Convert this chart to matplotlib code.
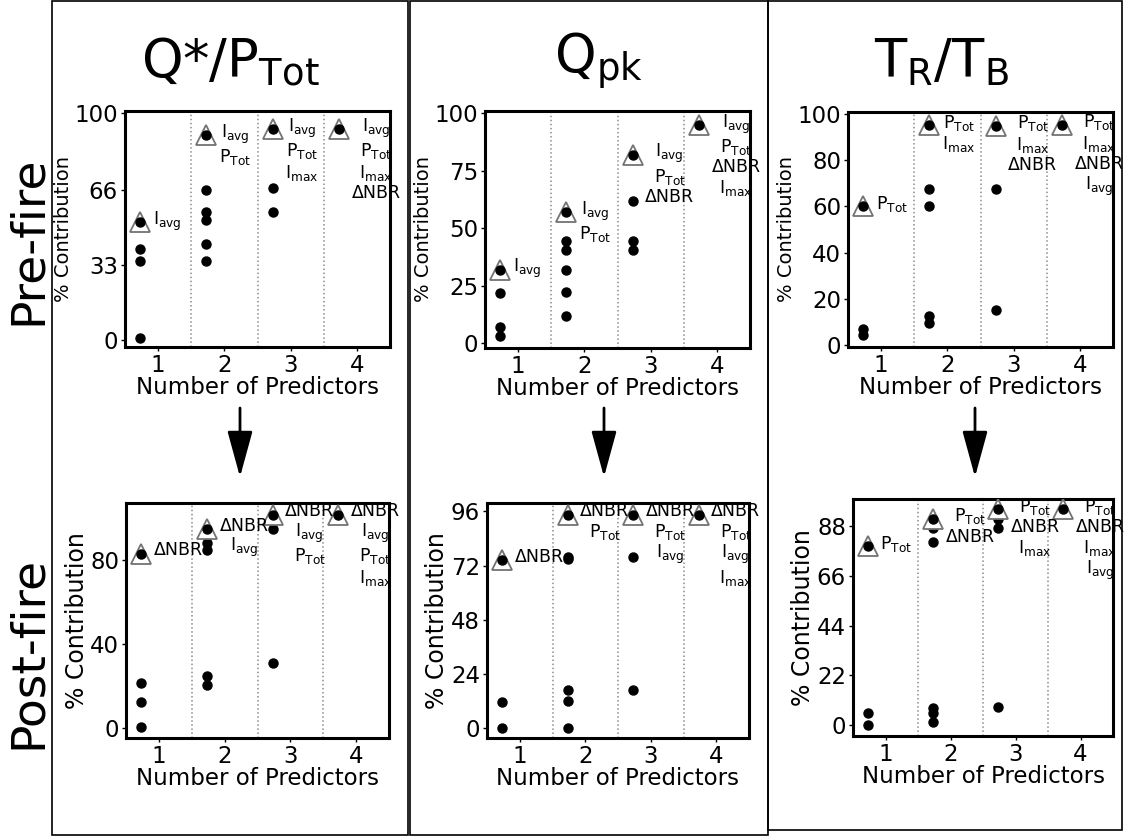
import matplotlib
matplotlib.use("Agg")
import matplotlib.pyplot as plt
from matplotlib.patches import Rectangle, FancyArrowPatch

plt.rcParams["font.family"] = "DejaVu Sans"
plt.rcParams["mathtext.default"] = "regular"

W, H = 1125, 839

IAVG = r"$I_{avg}$"
IMAX = r"$I_{max}$"
PTOT = r"$P_{Tot}$"
DNBR = "ΔNBR"

col_titles = [r"Q*/$P_{Tot}$", r"$Q_{pk}$", r"$T_R/T_B$"]
row_titles = ["Pre-fire", "Post-fire"]
n_predictors = [1, 2, 3, 4]

# best model (triangle) per number of predictors, and the other models (dots)
qstar_pre_best = [52, 90.5, 93, 93]
qstar_pre_other = [[40, 35, 1], [66, 56.5, 52.8, 42.5, 35], [91.5, 67, 56.7], []]
qstar_pre_labels = [[IAVG], [IAVG, PTOT], [IAVG, PTOT, IMAX], [IAVG, PTOT, IMAX, DNBR]]
qstar_pre_ticks = [0, 33, 66, 100]

qpk_pre_best = [32, 57, 82, 95]
qpk_pre_other = [[22, 7.2, 3.1], [44.3, 40.4, 32, 22.5, 12], [62, 44.6, 40.4], []]
qpk_pre_labels = [[IAVG], [IAVG, PTOT], [IAVG, PTOT, DNBR], [IAVG, PTOT, DNBR, IMAX]]
qpk_pre_ticks = [0, 25, 50, 75, 100]

trtb_pre_best = [60, 95.3, 95, 95.5]
trtb_pre_other = [[7, 4], [67.5, 60, 12.5, 9.5], [67.5, 15], []]
trtb_pre_labels = [[PTOT], [PTOT, IMAX], [PTOT, IMAX, DNBR], [PTOT, IMAX, DNBR, IAVG]]
trtb_pre_ticks = [0, 20, 40, 60, 80, 100]

qstar_post_best = [83, 94.6, 101.5, 101.5]
qstar_post_other = [[21.7, 12.4, 0.5], [88.2, 84.8, 25, 20.6], [94.6, 31], []]
qstar_post_labels = [[DNBR], [DNBR, IAVG], [DNBR, IAVG, PTOT], [DNBR, IAVG, PTOT, IMAX]]
qstar_post_ticks = [0, 40, 80]

qpk_post_best = [74.3, 94.5, 94.5, 94.5]
qpk_post_other = [[11.5, 0], [76, 75, 16.7, 12.2, 0], [76, 16.7], []]
qpk_post_labels = [[DNBR], [DNBR, PTOT], [DNBR, PTOT, IAVG], [DNBR, PTOT, IAVG, IMAX]]
qpk_post_ticks = [0, 24, 48, 72, 96]

trtb_post_best = [79, 91.3, 95.5, 95.5]
trtb_post_other = [[5.2, 0], [90.2, 87.3, 81, 7.4, 5.2, 1.2], [91, 87.3, 7.9], []]
trtb_post_labels = [[PTOT], [PTOT, DNBR], [PTOT, DNBR, IMAX], [PTOT, DNBR, IMAX, IAVG]]
trtb_post_ticks = [0, 22, 44, 66, 88]

panels = [
    (qstar_pre_best, qstar_pre_other, qstar_pre_labels, qstar_pre_ticks, (125, 111, 390, 347), (-3, 101), 0),
    (qpk_pre_best, qpk_pre_other, qpk_pre_labels, qpk_pre_ticks, (485, 111, 750, 348), (-2, 101), 0),
    (trtb_pre_best, trtb_pre_other, trtb_pre_labels, trtb_pre_ticks, (848, 112, 1113, 347), (-1, 101), 0),
    (qstar_post_best, qstar_post_other, qstar_post_labels, qstar_post_ticks, (126, 503, 389, 738), (-4.6, 107), 1),
    (qpk_post_best, qpk_post_other, qpk_post_labels, qpk_post_ticks, (487, 503, 749, 738), (-4.4, 99.7), 1),
    (trtb_post_best, trtb_post_other, trtb_post_labels, trtb_post_ticks, (853, 499, 1113, 736), (-4.9, 100), 1),
]


def fig_rect(left, top, right, bottom):
    return [left / W, 1 - bottom / H, (right - left) / W, (bottom - top) / H]


fig = plt.figure(figsize=(W / 100, H / 100), dpi=100)

OFFSET = 0.27
for best, other, labels, ticks, box, ylim, row in panels:
    ax = fig.add_axes(fig_rect(*box))
    for k, n in enumerate(n_predictors):
        x = n - OFFSET
        if other[k]:
            ax.plot([x] * len(other[k]), other[k], "o", color="k", ms=6.5, zorder=3)
        ax.plot(x, best[k], "^", mfc="white", mec="0.45", mew=1.3, ms=15, zorder=4)
        ax.plot(x, best[k], "o", color="k", ms=6.5, zorder=5)
        ax.annotate("\n".join(labels[k]), (x, best[k]), xytext=(9, 9),
                    textcoords="offset points", ha="left", va="top",
                    multialignment="center", fontsize=12.5, linespacing=1.1, zorder=6)
    for d in [1.5, 2.5, 3.5]:
        ax.axvline(d, color="0.55", ls=":", lw=1.1, zorder=1)
    ax.set_xlim(0.5, 4.5)
    ax.set_ylim(*ylim)
    ax.set_xticks(n_predictors)
    ax.set_yticks(ticks)
    ax.tick_params(labelsize=16.5, length=3, width=1, pad=2)
    ax.set_xlabel("Number of Predictors", fontsize=16.5, labelpad=-1)
    ax.set_ylabel("% Contribution", fontsize=[14, 17][row], labelpad=1)
    for s in ax.spines.values():
        s.set_linewidth(2.2)

# column titles
for cx, t in zip([230, 598, 942], col_titles):
    fig.text(cx / W, 1 - 62 / H, t, fontsize=38, ha="center", va="center")

# row titles
for cy, t in zip([240, 652], row_titles):
    fig.text(28 / W, 1 - cy / H, t, fontsize=34, rotation=90, ha="center", va="center")

# column frames
for l, r, b in [(52, 408, 835), (410, 768, 835), (768, 1122, 830)]:
    fig.add_artist(Rectangle((l / W, 1 - b / H), (r - l) / W, (b - 1) / H,
                             transform=fig.transFigure, fill=False, ec="k", lw=1.2))

# arrows from pre-fire to post-fire
for ax_x in [240, 604, 975]:
    fig.add_artist(FancyArrowPatch((ax_x / W, 1 - 408 / H), (ax_x / W, 1 - 477 / H),
                                   transform=fig.transFigure, color="k", lw=2,
                                   arrowstyle="-|>,head_length=0.95,head_width=0.26",
                                   mutation_scale=30, shrinkA=0, shrinkB=0))

fig.savefig("out.png", dpi=100)
